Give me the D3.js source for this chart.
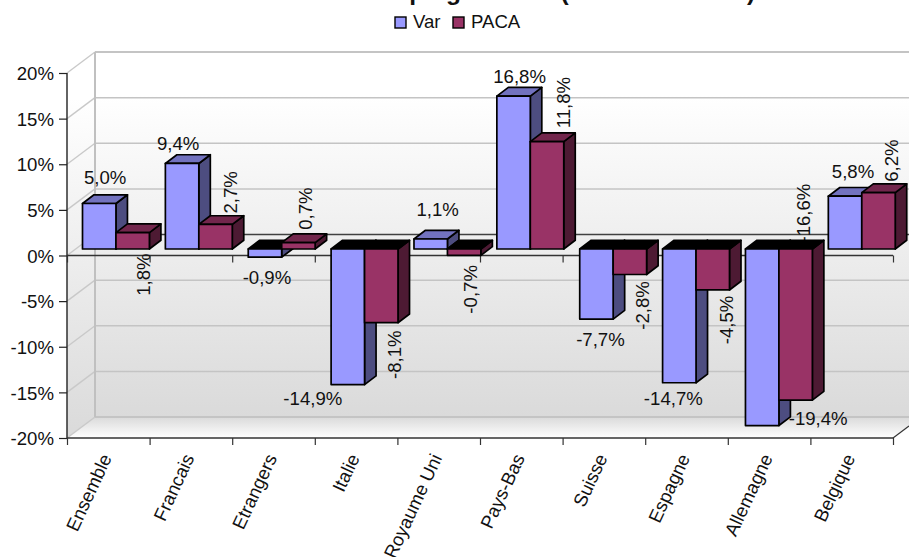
<!DOCTYPE html>
<html>
<head>
<meta charset="utf-8">
<script src="https://cdn.jsdelivr.net/npm/d3@7"></script>
<style>
  html, body { margin: 0; padding: 0; background: #fff; overflow: hidden; }
  text { font-family: "Liberation Sans", Arial, sans-serif; fill: #111; }
</style>
</head>
<body>
<svg width="909" height="557"></svg>
<script>
var categories = ["Ensemble", "Francais", "Etrangers", "Italie", "Royaume Uni", "Pays-Bas", "Suisse", "Espagne", "Allemagne", "Belgique"];
var seriesNames = ["Var", "PACA"];
var varValues = [5.0, 9.4, -0.9, -14.9, 1.1, 16.8, -7.7, -14.7, -19.4, 5.8];
var pacaValues = [1.8, 2.7, 0.7, -8.1, -0.7, 11.8, -2.8, -4.5, -16.6, 6.2];
var yTicks = [-20, -15, -10, -5, 0, 5, 10, 15, 20];

// hand placed labels, the original chart has them all over the place
var varLabelNudge = [[6, -20], [-4, -13], [2, 27], [-35, 20], [7, -23], [6, -13], [4, 27], [-6, 22], [56, -1], [8, -18]];
var pacaLabelNudge = [[17, 42], [21, -32], [14, -34], [20, 32], [13, 34], [23, -39], [19, 31], [20, 30], [14, -187], [19, -32]];

var svg = d3.select("svg");
var fontSize = 18.6;

var plotLeft = 67, plotRight = 893, plotTop = 73, plotBottom = 438;
var wallDx = 28, wallDy = -21;      // depth of the box
var depthDx = 11.5, depthDy = -8.7;  // depth of a bar

var y = d3.scaleLinear().domain([-20, 20]).range([plotBottom, plotTop]);
// bars stand further back in the box, so their scale is a bit flatter and higher
var yBar = d3.scaleLinear().domain([-20, 20]).range([431, 67]);
var xTick = d3.scaleLinear().domain([0, categories.length]).range([plotLeft, plotRight]);
var xLabel = d3.scaleBand().domain(categories).range([plotLeft, plotRight]);
var xBar = d3.scaleBand().domain(categories).range([plotLeft, plotLeft + 828.7]);
var xSeries = d3.scaleBand().domain(seriesNames).range([15.5, 82.4]);

var colors = {
  Var: { front: "#9999ff", side: "#4d4d80", top: "#7272bf" },
  PACA: { front: "#993366", side: "#4d1a33", top: "#72264c" }
};

var defs = svg.append("defs");

var wallGrad = defs.append("linearGradient").attr("id", "wallGrad")
  .attr("x1", 0).attr("x2", 0).attr("y1", 0).attr("y2", 1);
wallGrad.append("stop").attr("offset", "0%").attr("stop-color", "#ffffff");
wallGrad.append("stop").attr("offset", "12%").attr("stop-color", "#ffffff");
wallGrad.append("stop").attr("offset", "100%").attr("stop-color", "#dadada");

var floorGrad = defs.append("linearGradient").attr("id", "floorGrad")
  .attr("x1", 0).attr("x2", 0).attr("y1", 0).attr("y2", 1);
floorGrad.append("stop").attr("offset", "0%").attr("stop-color", "#dadada");
floorGrad.append("stop").attr("offset", "100%").attr("stop-color", "#ffffff");

function poly(pts) {
  return pts.map(function(p) { return p.join(","); }).join(" ");
}

function frLabel(d) {
  return d3.format(".1f")(d).replace(".", ",").replace("\u2212", "-") + "%";
}

// box walls
var farRight = plotRight + wallDx;
svg.append("polygon")
  .attr("points", poly([[plotLeft, plotTop], [plotLeft + wallDx, plotTop + wallDy], [plotLeft + wallDx, plotBottom + wallDy], [plotLeft, plotBottom]]))
  .style("fill", "url(#wallGrad)");
svg.append("rect")
  .attr("x", plotLeft + wallDx).attr("y", plotTop + wallDy)
  .attr("width", farRight - plotLeft - wallDx).attr("height", plotBottom - plotTop)
  .style("fill", "url(#wallGrad)");
svg.append("polygon")
  .attr("points", poly([[plotLeft, plotBottom], [plotLeft + wallDx, plotBottom + wallDy], [farRight, plotBottom + wallDy], [plotRight, plotBottom]]))
  .style("fill", "url(#floorGrad)");

// grid lines on the back wall and side wall
svg.append("g").selectAll("line")
  .data(yTicks)
  .enter().append("line")
  .attr("x1", plotLeft + wallDx)
  .attr("x2", farRight)
  .attr("y1", function(d) { return y(d) + wallDy; })
  .attr("y2", function(d) { return y(d) + wallDy; })
  .style("stroke", function(d) { return d == 0 ? "#404040" : "#c4c4c4"; })
  .style("stroke-width", function(d) { return d == 20 || d == -20 ? 2 : 1.5; });

svg.append("g").selectAll("line")
  .data(yTicks)
  .enter().append("line")
  .attr("x1", plotLeft)
  .attr("x2", plotLeft + wallDx)
  .attr("y1", function(d) { return y(d); })
  .attr("y2", function(d) { return y(d) + wallDy; })
  .style("stroke", "#c8c8c8")
  .style("stroke-width", 1.3);

svg.append("line")
  .attr("x1", plotLeft + wallDx).attr("x2", plotLeft + wallDx)
  .attr("y1", plotTop + wallDy).attr("y2", plotBottom + wallDy)
  .style("stroke", "#c0c0c0").style("stroke-width", 2);

// axes
var yAxis = d3.axisLeft(y).tickValues(yTicks).tickSize(8).tickPadding(5)
  .tickFormat(function(d) { return d + "%"; });
var yG = svg.append("g").attr("transform", "translate(" + plotLeft + ",0)").call(yAxis);
yG.select(".domain").attr("d", "M0," + plotTop + "V" + plotBottom).style("stroke", "#222").style("stroke-width", 1.4);
yG.selectAll(".tick line").style("stroke", "#222").style("stroke-width", 1.2);
yG.selectAll("text").style("font-size", fontSize + "px").attr("dy", "0.36em");

var xAxis = d3.axisBottom(xTick).tickValues(d3.range(categories.length + 1)).tickSize(7).tickFormat("");

var zeroG = svg.append("g").attr("transform", "translate(0," + y(0) + ")").call(xAxis);
var bottomG = svg.append("g").attr("transform", "translate(0," + plotBottom + ")").call(xAxis);
[zeroG, bottomG].forEach(function(g) {
  g.select(".domain").attr("d", "M" + plotLeft + ",0H" + plotRight).style("stroke", "#333").style("stroke-width", 1.4);
  g.selectAll(".tick line").style("stroke", "#333").style("stroke-width", 1.2);
});

svg.append("line")
  .attr("x1", plotRight).attr("y1", plotBottom).attr("x2", plotRight + 16).attr("y2", plotBottom - 12)
  .style("stroke", "#333").style("stroke-width", 1.2);

// category names
svg.append("g").selectAll("text")
  .data(categories)
  .enter().append("text")
  .attr("text-anchor", "end")
  .attr("dy", "0.35em")
  .attr("transform", function(d) {
    return "translate(" + (xLabel(d) + xLabel.bandwidth() / 2 - 2) + ",455) rotate(-65)";
  })
  .style("font-size", fontSize + "px")
  .text(function(d) { return d; });

// PACA labels go under the bars, the minus of -16,6% is hidden that way
svg.append("g").selectAll("text")
  .data(pacaValues)
  .enter().append("text")
  .attr("text-anchor", "middle")
  .attr("transform", function(d, i) {
    var px = xBar(categories[i]) + xSeries("PACA") + xSeries.bandwidth() / 2 + pacaLabelNudge[i][0];
    var py = yBar(d) + pacaLabelNudge[i][1];
    return "translate(" + px + "," + py + ") rotate(-90)";
  })
  .style("font-size", fontSize + "px")
  .text(function(d) { return frLabel(d); });

// bars, category by category, Var first
var rows = [];
categories.forEach(function(c, i) {
  rows.push({ cat: c, series: "Var", value: varValues[i] });
  rows.push({ cat: c, series: "PACA", value: pacaValues[i] });
});

var bars = svg.append("g").selectAll("g")
  .data(rows)
  .enter().append("g")
  .style("stroke", "#000")
  .style("stroke-width", 1.7)
  .style("stroke-linejoin", "round");

bars.each(function(d) {
  var g = d3.select(this);
  var x0 = xBar(d.cat) + xSeries(d.series);
  var x1 = x0 + xSeries.bandwidth();
  var yBase = yBar(0);
  var yVal = yBar(d.value);
  var yTop = Math.min(yBase, yVal);
  var yBot = Math.max(yBase, yVal);
  var col = colors[d.series];

  g.append("polygon")
    .attr("points", poly([[x1, yTop], [x1 + depthDx, yTop + depthDy], [x1 + depthDx, yBot + depthDy], [x1, yBot]]))
    .style("fill", col.side);
  g.append("polygon")
    .attr("points", poly([[x0, yTop], [x0 + depthDx, yTop + depthDy], [x1 + depthDx, yTop + depthDy], [x1, yTop]]))
    .style("fill", d.value < 0 ? "#000" : col.top);
  g.append("rect")
    .attr("x", x0).attr("y", yTop)
    .attr("width", x1 - x0).attr("height", yBot - yTop)
    .style("fill", col.front);
});

// Var labels
svg.append("g").selectAll("text")
  .data(varValues)
  .enter().append("text")
  .attr("text-anchor", "middle")
  .attr("x", function(d, i) { return xBar(categories[i]) + xSeries("Var") + xSeries.bandwidth() / 2 + varLabelNudge[i][0]; })
  .attr("y", function(d, i) { return yBar(d) + varLabelNudge[i][1]; })
  .style("font-size", fontSize + "px")
  .text(function(d) { return frLabel(d); });

// title, the top of it is cut off in the original too
svg.append("text")
  .attr("x", 474).attr("y", 0)
  .attr("text-anchor", "middle")
  .style("font-size", "24.5px")
  .style("font-weight", "bold")
  .text("Evolution des campings varois (Août 2009/2008)");

// legend
var legendX = [395, 453];
var legend = svg.append("g").selectAll("g")
  .data(seriesNames)
  .enter().append("g")
  .attr("transform", function(d, i) { return "translate(" + legendX[i] + ",17)"; });
legend.append("rect")
  .attr("width", 11).attr("height", 11)
  .style("fill", function(d) { return colors[d].front; })
  .style("stroke", "#000").style("stroke-width", 1.4);
legend.append("text")
  .attr("x", 18).attr("y", 11)
  .style("font-size", fontSize + "px")
  .text(function(d) { return d; });
</script>
</body>
</html>
